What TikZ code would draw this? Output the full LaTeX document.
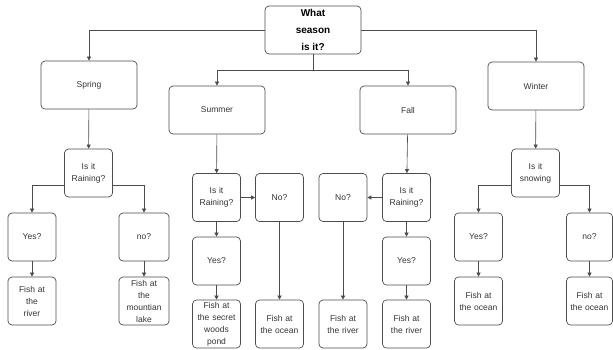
\documentclass[tikz,border=0pt]{standalone}
\usepackage{fontspec}
\setmainfont{Liberation Sans}
\usetikzlibrary{positioning}
\usetikzlibrary{arrows.meta}
\usetikzlibrary{calc}

\begin{document}
\begin{tikzpicture}[x=1pt, y=-1pt,
      box/.style={draw=black!70, line width=0.7, rounded corners=4, align=center,
        inner sep=1, text=black!80, font=\fontsize{8.5}{12}\selectfont},
      big/.style={box, minimum width=96, minimum height=48},
      small/.style={box, minimum width=48, minimum height=48, text width=46},
      title/.style={big, text=black, font=\fontsize{10}{17}\selectfont\bfseries},
      arr/.style={draw=black!70, line width=0.6, -{Triangle[length=4, width=4]}}
    ]
    \useasboundingbox (0,0) rectangle (613,349);
    % question and seasons
    \node [title] (0) at (313, 30) {What\\season\\is it?};
    \node [big] (1) at (89, 85) {Spring};
    \node [big] (2) at (217, 110) {Summer};
    \node [big] (3) at (408, 110) {Fall};
    \node [big] (4) at (536, 86) {Winter};

    % spring
    \node [small] (5) at (88.5, 173) {Is it\\Raining?};
    \node [small] (6) at (32, 237) {Yes?};
    \node [small] (7) at (32, 301) {Fish at\\the\\river};
    \node [small, minimum width=50] (8) at (144, 237) {no?};
    \node [small, minimum width=50] (9) at (144, 301) {Fish at\\the\\mountian\\lake};

    % summer
    \node [small] (10) at (216.5, 197.5) {Is it\\Raining?};
    \node [small] (11) at (279.5, 197.5) {No?};
    \node [small] (12) at (216.5, 261) {Yes?};
    \node [small] (13) at (216.5, 324) {Fish at\\the secret\\woods\\pond};
    \node [small] (14) at (279.5, 324) {Fish at\\the ocean};

    % fall
    \node [small] (15) at (406.5, 197.5) {Is it\\Raining?};
    \node [small] (16) at (343, 197.5) {No?};
    \node [small] (17) at (406.5, 261) {Yes?};
    \node [small] (18) at (406.5, 324) {Fish at\\the river};
    \node [small] (19) at (343, 324) {Fish at\\the river};

    % winter
    \node [small] (20) at (535.5, 173) {Is it\\snowing};
    \node [small] (21) at (478.5, 237) {Yes?};
    \node [small] (22) at (478.5, 301) {Fish at\\the ocean};
    \node [small, minimum width=45, text width=44] (23) at (589.5, 237) {no?};
    \node [small, minimum width=45, text width=44] (24) at (589.5, 301) {Fish at\\the ocean};

    \coordinate (a0) at ($(0.south)+(0,16)$);
    \draw[arr] (0.west) -| (1.north);
    \draw[arr] (0.east) -| (4.north);
    \draw[draw=black!70, line width=0.6] (0.south) to (a0);
    \draw[arr] (a0) -| (2.north);
    \draw[arr] (a0) -| (3.north);

    \draw[arr] (1) to (5);
    \draw[arr] ([yshift=-12]5.west) -| (6.north);
    \draw[arr] ([yshift=-12]5.east) -| (8.north);
    \draw[arr] (6) to (7);
    \draw[arr] (8) to (9);

    \draw[arr] (2) to (10);
    \draw[arr] (10) to (11);
    \draw[arr] (10) to (12);
    \draw[arr] (12) to (13);
    \draw[arr] (11) to (14);

    \draw[arr] (3) to (15);
    \draw[arr] (15) to (16);
    \draw[arr] (15) to (17);
    \draw[arr] (17) to (18);
    \draw[arr] (16) to (19);

    \draw[arr] (4) to (20);
    \draw[arr] ([yshift=-12]20.west) -| (21.north);
    \draw[arr] ([yshift=-12]20.east) -| (23.north);
    \draw[arr] (21) to (22);
    \draw[arr] (23) to (24);

\end{tikzpicture}
\end{document}
